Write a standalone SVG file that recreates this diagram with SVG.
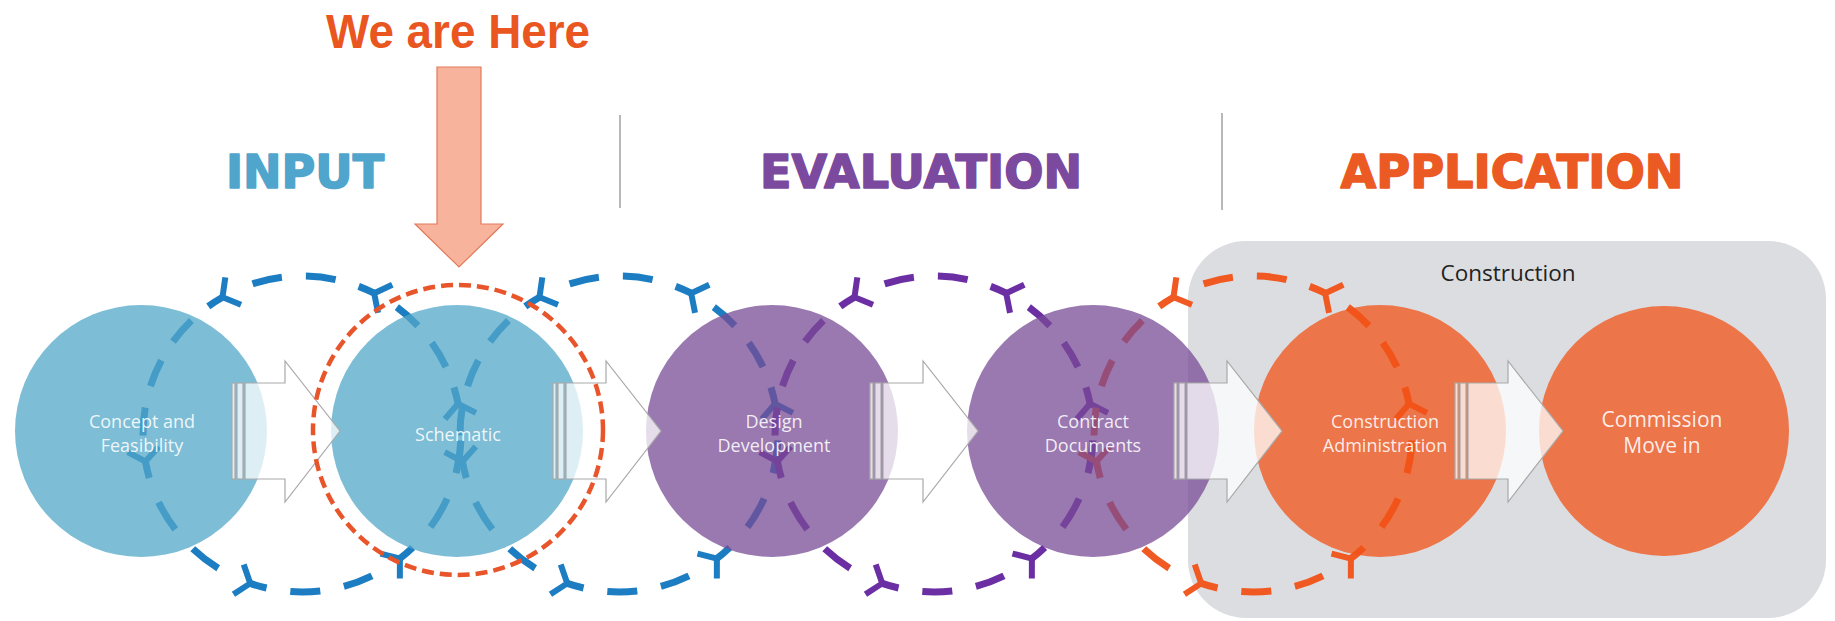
<svg xmlns="http://www.w3.org/2000/svg" width="1835" height="621" viewBox="0 0 1835 621">
<style>
.hdr{font-family:"DejaVu Sans",sans-serif;font-weight:bold;font-size:46px;text-anchor:middle;stroke-width:1.6;stroke-linejoin:round}
.lbl{font-family:"Open Sans","Liberation Sans",sans-serif;font-size:18px;fill:#ffffff;fill-opacity:.88;text-anchor:middle}
.big{font-size:21px}
.seg{fill:none;stroke:currentColor;stroke-width:7}
.chev{fill:none;stroke:currentColor;stroke-width:6;stroke-linejoin:miter}
.node{opacity:.75}
.bar{fill:#ffffff;fill-opacity:.75;stroke:#a9a9a9;stroke-width:1.2}
.div{stroke:#a0a0a0;stroke-width:1.5}
</style>
<defs>
<path id="chev" class="chev" d="M-12.3,-15.8 L0,0 L-12.3,15.8"/>
<g id="loop">
<path class="seg" stroke-dasharray="17 24 30 24 30 999" d="M72.19,-140.78 A159,158 0 0 0 -79.5,-136.83"/>
<path class="seg" stroke-dasharray="17 22 28 22 28 22 28 999" d="M-79.5,-136.83 A159,158 0 0 0 -156.58,27.44"/>
<path class="seg" stroke-dasharray="17 26 32 26 32 999" d="M-156.58,27.44 A159,158 0 0 0 -51.77,149.39"/>
<path class="seg" stroke-dasharray="17 24 30 24 30 999" d="M-51.77,149.39 A159,158 0 0 0 97.89,124.5"/>
<path class="seg" stroke-dasharray="17 27 33 27 33 999" d="M97.89,124.5 A159,158 0 0 0 156.08,-30.15"/>
<path class="seg" stroke-dasharray="17 22 28 22 28 999" d="M156.08,-30.15 A159,158 0 0 0 72.19,-140.78"/>
<use href="#chev" transform="translate(72.19,-140.78) rotate(206.8)"/>
<use href="#chev" transform="translate(-79.5,-136.83) rotate(150.2)"/>
<use href="#chev" transform="translate(-156.58,27.44) rotate(79.9)"/>
<use href="#chev" transform="translate(-51.77,149.39) rotate(18.9)"/>
<use href="#chev" transform="translate(97.89,124.5) rotate(-37.8)"/>
<use href="#chev" transform="translate(156.08,-30.15) rotate(-101)"/>
</g>
<g id="barrow">
<rect class="bar" x="0" y="-48" width="3" height="96"/>
<rect class="bar" x="5" y="-48" width="6" height="96"/>
<path class="bar" d="M13,-48 H53 V-70 L108,0 L53,71 V48 H13 Z"/>
</g>
</defs>

<g id="header">
<text x="458" y="48" font-family="Liberation Sans, Arial, sans-serif" font-weight="bold" font-size="48" fill="#e9561f" text-anchor="middle" textLength="264" lengthAdjust="spacingAndGlyphs">We are Here</text>
<text class="hdr" x="305" y="188" fill="#4fa5cc" stroke="#4fa5cc" textLength="158" lengthAdjust="spacingAndGlyphs">INPUT</text>
<text class="hdr" x="921" y="188" fill="#7b4a9f" stroke="#7b4a9f" textLength="322" lengthAdjust="spacingAndGlyphs">EVALUATION</text>
<text class="hdr" x="1512" y="188" fill="#ec5a24" stroke="#ec5a24" textLength="343" lengthAdjust="spacingAndGlyphs">APPLICATION</text>
<line class="div" x1="620" y1="115" x2="620" y2="208"/>
<line class="div" x1="1222" y1="113" x2="1222" y2="210"/>
</g>

<g id="construction-box">
<rect x="1188" y="241" width="638" height="377" rx="58" ry="58" fill="#dcdde1"/>
<text x="1508" y="281" font-family="Open Sans, Liberation Sans, sans-serif" font-size="22.5" fill="#222222" text-anchor="middle">Construction</text>
</g>

<g id="connectors">
<use href="#loop" x="302" y="434" style="color:#1c7dc2"/>
<use href="#loop" x="619" y="434" style="color:#1c7dc2"/>
<use href="#loop" x="934" y="434" style="color:#6b2fa3"/>
<use href="#loop" x="1253" y="434" style="color:#f05a22"/>
</g>

<g id="node-concept">
<circle class="node" cx="141" cy="431" r="126" fill="#52a7c8"/>
<text class="lbl" x="142" y="428">Concept and</text>
<text class="lbl" x="142" y="452">Feasibility</text>
</g>
<g id="node-schematic">
<circle class="node" cx="457" cy="431" r="126" fill="#52a7c8"/>
<text class="lbl" x="458" y="441">Schematic</text>
</g>
<g id="node-design">
<circle class="node" cx="772" cy="431" r="126" fill="#784b96"/>
<text class="lbl" x="774" y="428">Design</text>
<text class="lbl" x="774" y="452">Development</text>
</g>
<g id="node-contract">
<circle class="node" cx="1093" cy="431" r="126" fill="#784b96"/>
<text class="lbl" x="1093" y="428">Contract</text>
<text class="lbl" x="1093" y="452">Documents</text>
</g>
<g id="node-admin">
<circle class="node" cx="1380" cy="431" r="126" fill="#f15215"/>
<text class="lbl" x="1385" y="428">Construction</text>
<text class="lbl" x="1385" y="452">Administration</text>
</g>
<g id="node-commission">
<circle class="node" cx="1664" cy="431" r="125" fill="#f15215"/>
<text class="lbl big" x="1662" y="427">Commission</text>
<text class="lbl big" x="1662" y="453">Move in</text>
</g>

<g id="flow-arrows">
<use href="#barrow" x="232" y="431"/>
<use href="#barrow" x="553" y="431"/>
<use href="#barrow" x="870" y="431"/>
<use href="#barrow" x="1174" y="431"/>
<use href="#barrow" x="1455" y="431"/>
</g>

<g id="here-marker">
<polygon points="437,67 481,67 481,224 503,224 459,267 415,224 437,224" fill="#f7b39c" stroke="#e27a5a" stroke-width="1.2"/>
<circle cx="458" cy="430" r="145" fill="none" stroke="#e8552a" stroke-width="4.5" stroke-dasharray="12 6"/>
</g>
</svg>
